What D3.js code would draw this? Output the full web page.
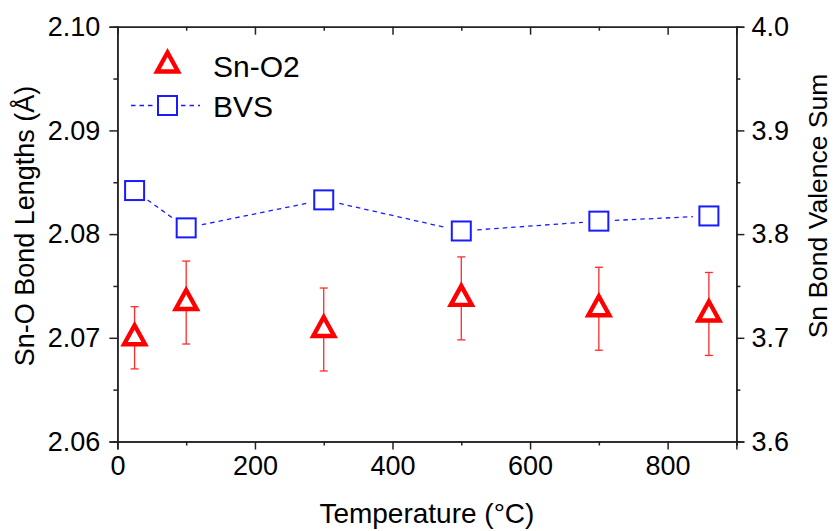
<!DOCTYPE html>
<html>
<head>
<meta charset="utf-8">
<script src="https://cdn.jsdelivr.net/npm/d3@7"></script>
<style>
  html, body { margin: 0; padding: 0; background: #fff; }
  svg { display: block; font-family: "Liberation Sans", Arial, sans-serif; }
</style>
</head>
<body>
<svg id="chart" width="837" height="531"></svg>
<script>
// Temperatures (°C) of the measurements
const temperatures = [25, 100, 300, 500, 700, 860];
// Sn-O2 bond length (Å) and its uncertainty
const snO2Length = [2.0700, 2.0734, 2.0708, 2.0738, 2.0728, 2.0723];
const snO2Error  = [0.0030, 0.0040, 0.0040, 0.0040, 0.0040, 0.0040];
// Sn bond valence sum
const bvsValues = [3.842, 3.806, 3.833, 3.803, 3.8125, 3.8175];

// Axis tick values
const xMajorTicks = [0, 200, 400, 600, 800];
const xMinorTicks = [100, 300, 500, 700, 900];
const yLeftTicks = [2.06, 2.07, 2.08, 2.09, 2.10];
const yLeftMinor = [2.065, 2.075, 2.085, 2.095];
const yRightTicks = [3.6, 3.7, 3.8, 3.9, 4.0];
const yRightMinor = [3.65, 3.75, 3.85, 3.95];

const svg = d3.select("#chart");
const plotLeft = 117.4, plotRight = 736.4, plotTop = 26.7, plotBottom = 441.5;

const x = d3.scaleLinear().domain([0, 900]).range([plotLeft, plotRight]);
const yL = d3.scaleLinear().domain([2.06, 2.10]).range([plotBottom, plotTop]);
const yR = d3.scaleLinear().domain([3.6, 4.0]).range([plotBottom, plotTop]);

const axisColor = "#222";
const fontSize = 27;

function styleAxis(g) {
  g.select(".domain").attr("stroke", axisColor).attr("stroke-width", 1.5);
  g.selectAll(".tick line").attr("stroke", axisColor).attr("stroke-width", 1.5);
  g.selectAll(".tick text").attr("fill", "#000").style("font-size", fontSize + "px");
}

// Bottom axis: major ticks with labels, minor ticks without
svg.append("g").attr("transform", `translate(0,${plotBottom})`)
  .call(d3.axisBottom(x).tickValues(xMinorTicks).tickSize(4).tickFormat(""))
  .call(styleAxis);
svg.append("g").attr("transform", `translate(0,${plotBottom})`)
  .call(d3.axisBottom(x).tickValues(xMajorTicks).tickSize(8).tickPadding(6).tickFormat(d3.format("d")))
  .call(styleAxis);

// Top axis: inward ticks, no labels
svg.append("g").attr("transform", `translate(0,${plotTop})`)
  .call(d3.axisTop(x).tickValues(xMinorTicks).tickSize(-4).tickFormat(""))
  .call(styleAxis);
svg.append("g").attr("transform", `translate(0,${plotTop})`)
  .call(d3.axisTop(x).tickValues(xMajorTicks).tickSize(-8).tickFormat(""))
  .call(styleAxis);

// Left axis (bond lengths)
svg.append("g").attr("transform", `translate(${plotLeft},0)`)
  .call(d3.axisLeft(yL).tickValues(yLeftMinor).tickSize(4).tickFormat(""))
  .call(styleAxis);
svg.append("g").attr("transform", `translate(${plotLeft},0)`)
  .call(d3.axisLeft(yL).tickValues(yLeftTicks).tickSize(8).tickPadding(9).tickFormat(d3.format(".2f")))
  .call(styleAxis);

// Right axis (bond valence sum)
svg.append("g").attr("transform", `translate(${plotRight},0)`)
  .call(d3.axisRight(yR).tickValues(yRightMinor).tickSize(4).tickFormat(""))
  .call(styleAxis);
svg.append("g").attr("transform", `translate(${plotRight},0)`)
  .call(d3.axisRight(yR).tickValues(yRightTicks).tickSize(8).tickPadding(7).tickFormat(d3.format(".1f")))
  .call(styleAxis);

// Axis titles
svg.append("text")
  .attr("x", (plotLeft + plotRight) / 2).attr("y", 522.5)
  .attr("text-anchor", "middle")
  .style("font-size", "28px")
  .text("Temperature (°C)");

svg.append("text")
  .attr("transform", `translate(33.5,226) rotate(-90)`)
  .attr("text-anchor", "middle")
  .style("font-size", "27px")
  .text("Sn-O Bond Lengths (Å)");

svg.append("text")
  .attr("transform", `translate(826.5,206) rotate(-90)`)
  .attr("text-anchor", "middle")
  .style("font-size", "26.5px")
  .text("Sn Bond Valence Sum");

// Symbols
const blue = "#1a1aff";
const red = "#ff0000";
const triPath = "M0,-12.5L10.5,6.5L-10.5,6.5Z";
const sq = 19;

// BVS dashed connecting line, broken around each marker
const bvsPts = temperatures.map((t, i) => [x(t), yR(bvsValues[i])]);
const gapR = 16;
const segs = d3.pairs(bvsPts).map(([a, b]) => {
  const dx = b[0] - a[0], dy = b[1] - a[1];
  const len = Math.hypot(dx, dy);
  const ux = dx / len, uy = dy / len;
  return [[a[0] + ux * gapR, a[1] + uy * gapR], [b[0] - ux * gapR, b[1] - uy * gapR]];
});
svg.append("g").selectAll("line").data(segs).join("line")
  .attr("x1", d => d[0][0]).attr("y1", d => d[0][1])
  .attr("x2", d => d[1][0]).attr("y2", d => d[1][1])
  .attr("stroke", blue).attr("stroke-width", 1.3)
  .attr("stroke-dasharray", "4.5,4");

svg.append("g").selectAll("rect").data(temperatures).join("rect")
  .attr("x", d => x(d) - sq / 2)
  .attr("y", (d, i) => yR(bvsValues[i]) - sq / 2)
  .attr("width", sq).attr("height", sq)
  .attr("fill", "#fff").attr("stroke", blue).attr("stroke-width", 2);

// Sn-O2 error bars
const eb = svg.append("g").attr("stroke", "#ff2a2a").attr("stroke-width", 1.3);
temperatures.forEach((t, i) => {
  const cx = x(t);
  const y1 = yL(snO2Length[i] + snO2Error[i]);
  const y2 = yL(snO2Length[i] - snO2Error[i]);
  eb.append("line").attr("x1", cx).attr("x2", cx).attr("y1", y1).attr("y2", y2);
  eb.append("line").attr("x1", cx - 4).attr("x2", cx + 4).attr("y1", y1).attr("y2", y1);
  eb.append("line").attr("x1", cx - 4).attr("x2", cx + 4).attr("y1", y2).attr("y2", y2);
});

// Sn-O2 triangles
svg.append("g").selectAll("path").data(temperatures).join("path")
  .attr("transform", (d, i) => `translate(${x(d)},${yL(snO2Length[i])})`)
  .attr("d", triPath)
  .attr("fill", "#fff").attr("stroke", red).attr("stroke-width", 4.4)
  .attr("stroke-linejoin", "miter");

// Legend
const leg = svg.append("g");
leg.append("path").attr("transform", "translate(167.5,65)").attr("d", triPath)
  .attr("fill", "#fff").attr("stroke", red).attr("stroke-width", 4.4);
leg.append("text").attr("x", 213).attr("y", 76.5).style("font-size", "30px").text("Sn-O2");

leg.append("line").attr("x1", 131).attr("x2", 154).attr("y1", 105.5).attr("y2", 105.5)
  .attr("stroke", blue).attr("stroke-width", 1.3).attr("stroke-dasharray", "4.5,4");
leg.append("line").attr("x1", 181).attr("x2", 200).attr("y1", 105.5).attr("y2", 105.5)
  .attr("stroke", blue).attr("stroke-width", 1.3).attr("stroke-dasharray", "4.5,4");
leg.append("rect").attr("x", 167.5 - sq / 2).attr("y", 105.5 - sq / 2)
  .attr("width", sq).attr("height", sq)
  .attr("fill", "#fff").attr("stroke", blue).attr("stroke-width", 2);
leg.append("text").attr("x", 213).attr("y", 116.5).style("font-size", "30px").text("BVS");
</script>
</body>
</html>
